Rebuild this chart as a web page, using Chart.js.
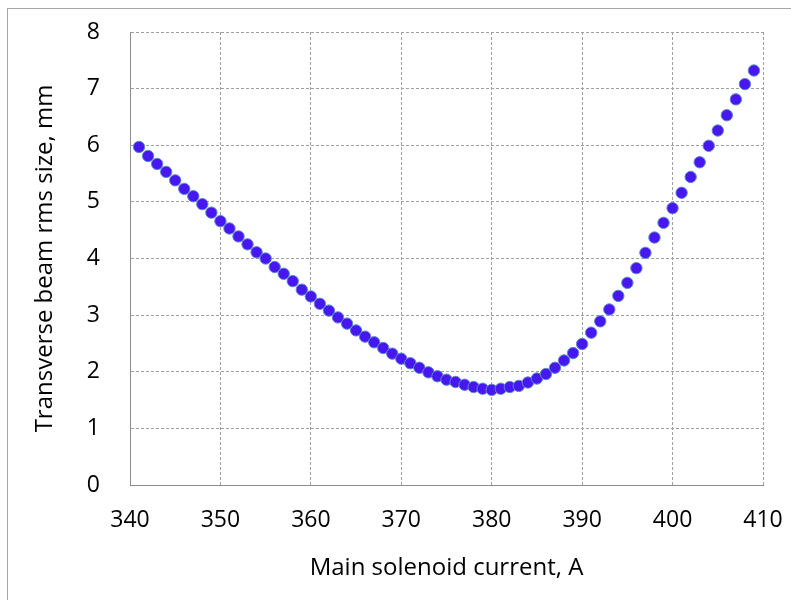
<!DOCTYPE html>
<html>
<head>
<meta charset="utf-8">
<script src="https://cdn.jsdelivr.net/npm/chart.js@4/dist/chart.umd.min.js"></script>
<style>
  html, body { margin: 0; padding: 0; background: #ffffff; }
  #wrap { position: relative; width: 791px; height: 600px; overflow: hidden; }
  #frame { position: absolute; left: 7px; top: 8px; width: 900px; height: 700px;
           border-left: 1px solid #a6a6a6; border-top: 1px solid #a6a6a6; }
  canvas { position: absolute; left: 0; top: 0; }
</style>
</head>
<body>
<div id="wrap">
  <div id="frame"></div>
  <canvas id="c" width="791" height="600"></canvas>
</div>
<script>
// Main solenoid current, A
const currents = [
  341, 342, 343, 344, 345, 346, 347, 348, 349, 350,
  351, 352, 353, 354, 355, 356, 357, 358, 359, 360,
  361, 362, 363, 364, 365, 366, 367, 368, 369, 370,
  371, 372, 373, 374, 375, 376, 377, 378, 379, 380,
  381, 382, 383, 384, 385, 386, 387, 388, 389, 390,
  391, 392, 393, 394, 395, 396, 397, 398, 399, 400,
  401, 402, 403, 404, 405, 406, 407, 408, 409
];
// Transverse beam rms size, mm
const rmsSize = [
  5.97, 5.81, 5.67, 5.53, 5.38, 5.23, 5.10, 4.96, 4.81, 4.66,
  4.53, 4.39, 4.25, 4.11, 4.00, 3.85, 3.73, 3.60, 3.45, 3.33,
  3.20, 3.08, 2.96, 2.85, 2.73, 2.62, 2.52, 2.42, 2.32, 2.23,
  2.15, 2.07, 1.99, 1.92, 1.86, 1.82, 1.77, 1.73, 1.70, 1.68,
  1.70, 1.73, 1.75, 1.81, 1.88, 1.96, 2.07, 2.20, 2.33, 2.49,
  2.69, 2.89, 3.10, 3.34, 3.57, 3.83, 4.10, 4.37, 4.63, 4.89,
  5.16, 5.44, 5.70, 5.99, 6.26, 6.53, 6.81, 7.08, 7.32
];
const xTicks = [340, 350, 360, 370, 380, 390, 400, 410];
const yTicks = [0, 1, 2, 3, 4, 5, 6, 7, 8];
const xTitle = 'Main solenoid current, A';
const yTitle = 'Transverse beam rms size, mm';

const points = currents.map((x, i) => ({ x: x, y: rmsSize[i] }));
const FONT = "'Open Sans', 'DejaVu Sans', sans-serif";

new Chart(document.getElementById('c'), {
  type: 'scatter',
  data: {
    datasets: [{
      data: points,
      showLine: false,
      pointRadius: 5.7,
      pointHoverRadius: 5.7,
      pointBorderWidth: 1,
      pointBackgroundColor: '#4816f0',
      pointBorderColor: '#5a8cc6'
    }]
  },
  options: {
    responsive: false,
    animation: false,
    events: [],
    layout: { padding: { top: 32, right: 28, bottom: 0, left: 0 } },
    plugins: { legend: { display: false }, tooltip: { enabled: false } },
    scales: {
      x: {
        type: 'linear',
        min: xTicks[0],
        max: xTicks[xTicks.length - 1],
        afterBuildTicks: (s) => { s.ticks = xTicks.map(v => ({ value: v })); },
        afterFit: (s) => { s.height = 115; s.paddingLeft = 0; s.paddingRight = 0; },
        ticks: { padding: 22, color: '#000', font: { family: FONT, size: 23 }, maxRotation: 0 },
        grid: { color: '#a0a0a0', lineWidth: 1, drawTicks: false },
        border: { display: true, color: '#8c8c8c', width: 1, dash: [3, 2] },
        title: { display: true, text: xTitle, color: '#000',
                 font: { family: FONT, size: 24 }, padding: { top: 0, bottom: 17.6 } }
      },
      y: {
        type: 'linear',
        min: yTicks[0],
        max: yTicks[yTicks.length - 1],
        afterBuildTicks: (s) => { s.ticks = yTicks.map(v => ({ value: v })); },
        afterFit: (s) => { s.width = 130; s.paddingTop = 0; s.paddingBottom = 0; },
        ticks: { padding: 30, color: '#000', font: { family: FONT, size: 23 } },
        grid: { color: '#a0a0a0', lineWidth: 1, drawTicks: false },
        border: { display: true, color: '#8c8c8c', width: 1, dash: [3, 2] },
        title: { display: true, text: yTitle, color: '#000',
                 font: { family: FONT, size: 24 }, padding: { top: 30.6, bottom: 0 } }
      }
    }
  }
});
</script>
</body>
</html>
